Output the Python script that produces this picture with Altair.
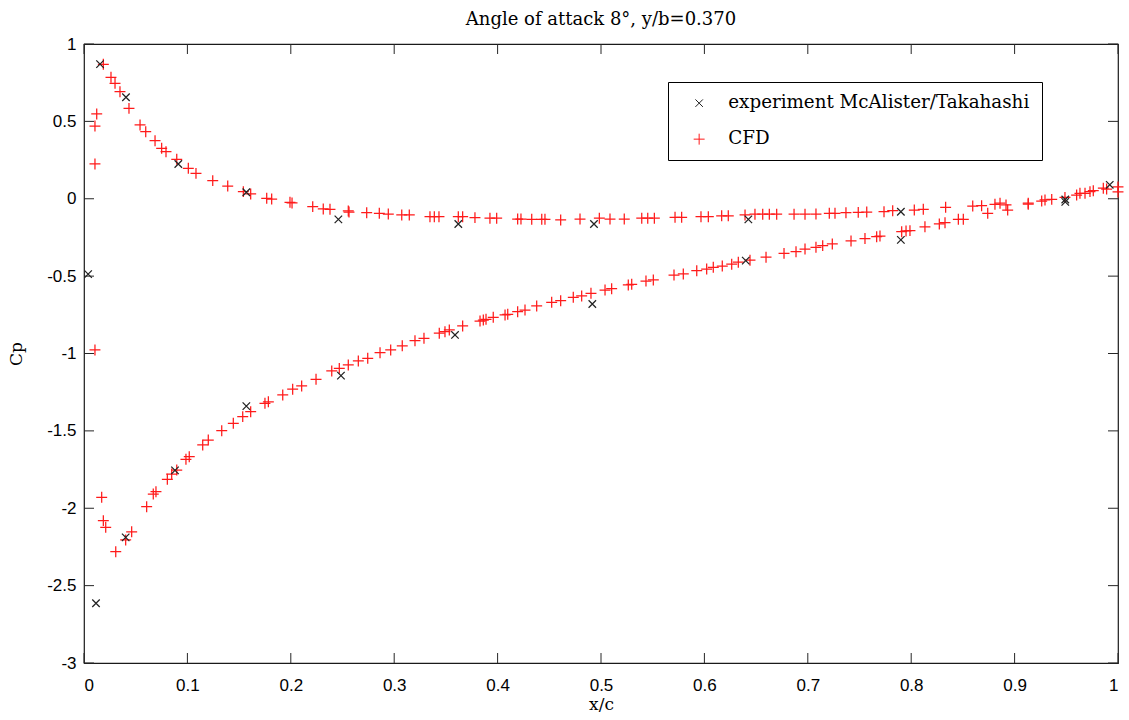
import altair as alt
import pandas as pd

TITLE = "Angle of attack 8°, y/b=0.370"
EXP_NAME = "experiment McAlister/Takahashi"
CFD_NAME = "CFD"

# Experiment (x/c, Cp)
exp_x = [0.0155, 0.0406, 0.0912, 0.157, 0.246, 0.362, 0.4932, 0.6425, 0.790, 0.949, 0.992,
         0.004, 0.0116, 0.0403, 0.088, 0.157, 0.2485, 0.3588, 0.4916, 0.640, 0.790, 0.949]
exp_cp = [0.870, 0.656, 0.2245, 0.042, -0.133, -0.163, -0.163, -0.133, -0.084, -0.005, 0.09,
          -0.487, -2.614, -2.188, -1.755, -1.340, -1.143, -0.880, -0.680, -0.400, -0.266, -0.02]

# CFD upper branch (pressure side)
cfd_up_x = [0.0187, 0.0261, 0.0300, 0.0348, 0.0435, 0.0542, 0.0597, 0.0687, 0.0751, 0.0793,
            0.0897, 0.1009, 0.1083, 0.1245, 0.1390, 0.1541, 0.1612, 0.1767, 0.1815, 0.1992,
            0.2012, 0.2212, 0.2314, 0.2379, 0.2556, 0.2563, 0.2734, 0.2856, 0.2943, 0.3073,
            0.3146, 0.3346, 0.3388, 0.3433, 0.3620, 0.3662, 0.3781, 0.3926, 0.3991, 0.4194,
            0.4226, 0.4330, 0.4427, 0.4458, 0.4610, 0.4797, 0.4984, 0.5087, 0.5225, 0.5394,
            0.5452, 0.5516, 0.5716, 0.5780, 0.5967, 0.6038, 0.6167, 0.6231, 0.6393, 0.6489,
            0.6564, 0.6628, 0.6699, 0.6867, 0.6973, 0.7079, 0.7208, 0.7263, 0.7369, 0.7488,
            0.7570, 0.7737, 0.7821, 0.8030, 0.8117, 0.8333, 0.8595, 0.8681, 0.8810, 0.8859,
            0.8917, 0.9132, 0.9262, 0.9359, 0.9600, 0.9681, 0.9761, 0.9858, 1.0]
cfd_up_cp = [0.869, 0.785, 0.746, 0.692, 0.584, 0.477, 0.433, 0.375, 0.326, 0.304,
             0.255, 0.197, 0.164, 0.117, 0.082, 0.046, 0.031, 0.003, -0.002, -0.023,
             -0.027, -0.051, -0.066, -0.068, -0.079, -0.086, -0.090, -0.094, -0.099, -0.105,
             -0.105, -0.116, -0.116, -0.116, -0.116, -0.116, -0.122, -0.126, -0.126, -0.131,
             -0.131, -0.133, -0.133, -0.133, -0.137, -0.131, -0.126, -0.131, -0.131, -0.126,
             -0.126, -0.126, -0.120, -0.120, -0.116, -0.116, -0.110, -0.110, -0.105, -0.100,
             -0.100, -0.100, -0.100, -0.100, -0.100, -0.099, -0.094, -0.094, -0.090, -0.088,
             -0.086, -0.084, -0.077, -0.073, -0.068, -0.055, -0.047, -0.045, -0.036, -0.029,
             -0.040, -0.029, -0.015, -0.004, 0.024, 0.035, 0.052, 0.068, 0.076]

# CFD leading edge and lower branch (suction side)
cfd_lo_x = [0.0123, 0.0106, 0.0106, 0.0106, 0.0171, 0.0187, 0.0210, 0.0307, 0.0403, 0.0461,
            0.0606, 0.0670, 0.0696, 0.0806, 0.0848, 0.0897, 0.0986, 0.1018, 0.1148, 0.1202,
            0.1332, 0.1444, 0.1535, 0.1612, 0.1750, 0.1783, 0.1922, 0.2018, 0.2105, 0.2244,
            0.2396, 0.2469, 0.2556, 0.2653, 0.2744, 0.2863, 0.2966, 0.3078, 0.3201, 0.3288,
            0.3436, 0.3491, 0.3533, 0.3662, 0.3830, 0.3862, 0.3888, 0.3958, 0.4072, 0.4098,
            0.4194, 0.4265, 0.4378, 0.4523, 0.4610, 0.4732, 0.4813, 0.4903, 0.5039, 0.5103,
            0.5264, 0.5297, 0.5435, 0.5506, 0.5706, 0.5796, 0.5926, 0.6022, 0.6086, 0.6173,
            0.6264, 0.6328, 0.6441, 0.6596, 0.6770, 0.6886, 0.6973, 0.7079, 0.7144, 0.7237,
            0.7418, 0.7553, 0.7666, 0.7698, 0.7908, 0.7950, 0.7988, 0.8133, 0.8272, 0.8327,
            0.8456, 0.8504, 0.8740, 0.8933, 0.9132, 0.9294, 0.9487, 0.9632, 0.9729, 0.9890, 1.0]
cfd_lo_cp = [0.548, 0.470, 0.225, -0.977, -1.929, -2.080, -2.123, -2.281, -2.205, -2.152,
             -1.990, -1.908, -1.893, -1.813, -1.779, -1.753, -1.684, -1.667, -1.591, -1.559,
             -1.499, -1.451, -1.408, -1.376, -1.322, -1.312, -1.268, -1.231, -1.210, -1.167,
             -1.113, -1.096, -1.074, -1.048, -1.031, -0.995, -0.977, -0.950, -0.917, -0.902,
             -0.869, -0.859, -0.848, -0.822, -0.790, -0.784, -0.779, -0.766, -0.751, -0.747,
             -0.730, -0.719, -0.693, -0.669, -0.659, -0.637, -0.628, -0.611, -0.590, -0.581,
             -0.557, -0.553, -0.532, -0.525, -0.493, -0.486, -0.465, -0.454, -0.443, -0.435,
             -0.423, -0.410, -0.397, -0.378, -0.353, -0.342, -0.325, -0.314, -0.303, -0.292,
             -0.273, -0.257, -0.245, -0.241, -0.213, -0.208, -0.206, -0.181, -0.163, -0.155,
             -0.133, -0.133, -0.094, -0.073, -0.035, -0.008, 0.009, 0.035, 0.046, 0.063, 0.044]

x_ticks = [0, 0.1, 0.2, 0.3, 0.4, 0.5, 0.6, 0.7, 0.8, 0.9, 1]
y_ticks = [-3, -2.5, -2, -1.5, -1, -0.5, 0, 0.5, 1]

W, H = 1034, 619
TICK = 10

cfd_x = cfd_up_x + cfd_lo_x
cfd_cp = cfd_up_cp + cfd_lo_cp
pts = pd.DataFrame({
    "xc": cfd_x + exp_x,
    "cp": cfd_cp + exp_cp,
    "series": [CFD_NAME] * len(cfd_x) + [EXP_NAME] * len(exp_x),
})

X_PATH = "M-1,-1L1,1M1,-1L-1,1"
PLUS_PATH = "M-1,0L1,0M0,-1L0,1"

xscale = alt.Scale(domain=[0, 1], nice=False, zero=False)
yscale = alt.Scale(domain=[-3, 1], nice=False, zero=False)
xaxis = alt.Axis(values=x_ticks, title="x/c", labelExpr="toString(datum.value)",
                 ticks=False, domain=False, grid=False, labelPadding=14, titlePadding=3)
yaxis = alt.Axis(values=y_ticks, title="Cp", labelExpr="toString(datum.value)",
                 ticks=False, domain=False, grid=False, labelPadding=8, titlePadding=21)

points = alt.Chart(pts).mark_point(filled=False, strokeWidth=1.25, opacity=1).encode(
    x=alt.X("xc:Q", scale=xscale, axis=xaxis),
    y=alt.Y("cp:Q", scale=yscale, axis=yaxis),
    color=alt.Color("series:N", scale=alt.Scale(domain=[EXP_NAME, CFD_NAME], range=["#222222", "#ff1a1a"]),
                    legend=alt.Legend(title=None, orient="none", legendX=584, legendY=38,
                                      strokeColor="black", fillColor="white", padding=12,
                                      symbolOffset=10, labelOffset=20, rowPadding=17,
                                      symbolSize=56, symbolStrokeWidth=1,
                                      labelFont="DejaVu Serif", labelFontSize=18.3,
                                      labelColor="black", labelLimit=0)),
    shape=alt.Shape("series:N", scale=alt.Scale(domain=[EXP_NAME, CFD_NAME], range=[X_PATH, PLUS_PATH]),
                    legend=None),
    size=alt.Size("series:N", scale=alt.Scale(domain=[EXP_NAME, CFD_NAME], range=[56, 120]),
                  legend=None),
    order=alt.Order("ord:Q"),
).transform_calculate(ord="datum.series == 'CFD' ? 0 : 1")

xt = pd.DataFrame({"xc": x_ticks})
yt = pd.DataFrame({"cp": y_ticks})
TC = "#262626"
t_bottom = alt.Chart(xt).mark_rule(color=TC, strokeWidth=1).encode(
    x=alt.X("xc:Q", scale=xscale, axis=xaxis), y=alt.value(H), y2=alt.value(H - TICK))
t_top = alt.Chart(xt).mark_rule(color=TC, strokeWidth=1).encode(
    x=alt.X("xc:Q", scale=xscale, axis=xaxis), y=alt.value(0), y2=alt.value(TICK))
t_left = alt.Chart(yt).mark_rule(color=TC, strokeWidth=1).encode(
    y=alt.Y("cp:Q", scale=yscale, axis=yaxis), x=alt.value(0), x2=alt.value(TICK))
t_right = alt.Chart(yt).mark_rule(color=TC, strokeWidth=1).encode(
    y=alt.Y("cp:Q", scale=yscale, axis=yaxis), x=alt.value(W), x2=alt.value(W - TICK))

chart = alt.layer(t_bottom, t_top, t_left, t_right, points).properties(
    width=W, height=H,
    autosize=alt.AutoSizeParams(type="none"),
    padding={"left": 84, "top": 44, "right": 11, "bottom": 57},
    title=alt.TitleParams(TITLE, font="DejaVu Serif", fontSize=18, fontWeight="normal",
                          color="black", offset=6),
).configure(background="white").configure_view(
    stroke="#1a1a1a", strokeWidth=1.2
).configure_axis(
    labelFont="Liberation Sans", labelFontSize=17, labelColor="black",
    titleFont="DejaVu Serif", titleFontSize=17, titleFontWeight="normal", titleColor="black",
)

chart.save("out.html", embed_options={"renderer": "svg", "actions": False})
